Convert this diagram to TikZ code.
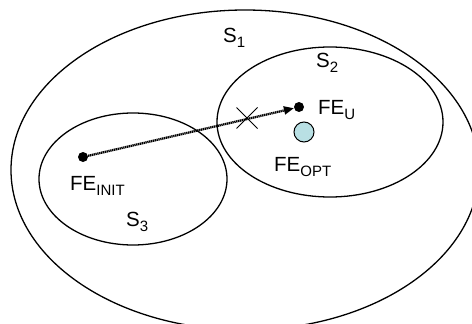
\documentclass[tikz,border=0pt]{standalone}
\usepackage{fontspec}
\setmainfont{Liberation Sans}
\usetikzlibrary{arrows.meta,shapes.misc}
\definecolor{optblue}{RGB}{185,224,228}
\newcommand{\lowidx}[1]{\raisebox{-5pt}{\fontsize{15}{15}\selectfont #1}}
\tikzset{
  setline/.style={line width=1.3pt},
  lab/.style={anchor=base west,inner sep=0pt,font=\fontsize{20.5}{22}\selectfont},
  pointdot/.style={circle,fill=black,inner sep=0pt,minimum size=10pt},
  move/.style={line width=2.3pt,dash pattern=on 1.3pt off 0.6pt,-{Triangle[length=10pt,width=8pt]}}
}
\begin{document}
\begin{tikzpicture}[x=1pt,y=-1pt]
  \useasboundingbox (0,0) rectangle (472,324);
  \clip (0,0) rectangle (472,324);
  % the three sets
  \draw[setline] (245,170) ellipse [x radius=234,y radius=160];
  \draw[setline] (330,122) ellipse [x radius=113,y radius=75];
  \draw[setline] (133,179) ellipse [x radius=94,y radius=66];
  % points
  \node[pointdot] (init) at (83,157) {};
  \node[pointdot] (upd) at (299,107) {};
  \node[circle,draw,line width=1pt,fill=optblue,inner sep=0pt,minimum size=20pt] (opt) at (304,132) {};
  \node[cross out,draw,line width=1pt,inner sep=0pt,minimum size=20pt] (cross) at (247,118) {};
  \draw[move] (init) -- (upd);
  % labels
  \node[lab] (s1) at (223,42) {S\lowidx{1}};
  \node[lab] (s2) at (316,67) {S\lowidx{2}};
  \node[lab] (s3) at (126,226) {S\lowidx{3}};
  \node[lab] (feu) at (318,114) {FE\lowidx{U}};
  \node[lab] (feopt) at (274,171) {FE\lowidx{OPT}};
  \node[lab] (feinit) at (70,190) {FE\lowidx{INIT}};
\end{tikzpicture}
\end{document}
